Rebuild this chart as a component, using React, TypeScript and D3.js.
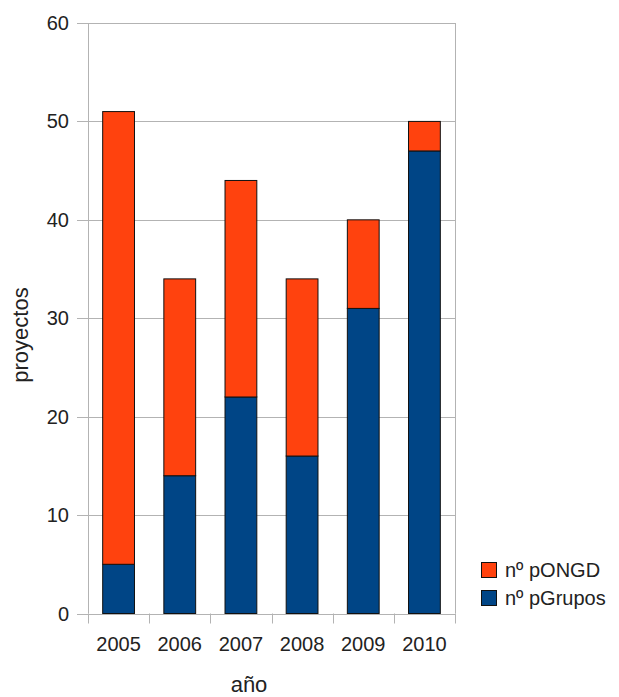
import React from "react";
import * as d3 from "d3";

const years = ["2005", "2006", "2007", "2008", "2009", "2010"];
const pGrupos = [5, 14, 22, 16, 31, 47];
const pONGD = [46, 20, 22, 18, 9, 3];
const yTicks = [0, 10, 20, 30, 40, 50, 60];
const seriesNames = ["nº pONGD", "nº pGrupos"];
const colors = { ongd: "#ff420e", grupos: "#004586" };

export default function App() {
  const W = 619, H = 697;
  const left = 88, right = 455, top = 23, bottom = 613.5;
  const x = d3.scaleBand<string>().domain(years).range([left, right]).paddingInner(0.48).paddingOuter(0.24);
  const xb = d3.scaleBand<string>().domain(years).range([left, right]);
  const y = d3.scaleLinear().domain([0, 60]).range([bottom, top]);
  const font = "'Liberation Sans', Arial, sans-serif";
  const stacked = d3.stack<number>().keys(["g", "o"]).value((i, k) => (k === "g" ? pGrupos[i] : pONGD[i]))(years.map((_, i) => i));

  return (
    <svg width={W} height={H} style={{ position: "absolute", left: 0, top: 0, background: "#fff" }} fontFamily={font}>
      {yTicks.map((t) => (
        <g key={t}>
          <line x1={77} x2={right} y1={Math.round(y(t)) + 0.5} y2={Math.round(y(t)) + 0.5} stroke="#b3b3b3" strokeWidth={1} />
          <text x={69} y={y(t)} dy="0.35em" textAnchor="end" fontSize={20} fill="#222">{t}</text>
        </g>
      ))}
      <line x1={left + 0.5} x2={left + 0.5} y1={top} y2={bottom} stroke="#b3b3b3" />
      <line x1={right + 0.5} x2={right + 0.5} y1={top} y2={bottom} stroke="#b3b3b3" />
      {years.map((yr) => (
        <line key={"t" + yr} x1={Math.round(xb(yr)!) + 0.5} x2={Math.round(xb(yr)!) + 0.5} y1={bottom} y2={bottom + 10} stroke="#b3b3b3" />
      ))}
      <line x1={right + 0.5} x2={right + 0.5} y1={bottom} y2={bottom + 10} stroke="#b3b3b3" />
      {stacked.map((layer) =>
        layer.map((d, i) => (
          <rect
            key={layer.key + i}
            x={x(years[i])!}
            width={x.bandwidth()}
            y={y(d[1])}
            height={y(d[0]) - y(d[1])}
            fill={layer.key === "g" ? colors.grupos : colors.ongd}
            stroke="#111"
            strokeWidth={1}
          />
        ))
      )}
      {years.map((yr) => (
        <text key={"l" + yr} x={xb(yr)! + xb.bandwidth() / 2} y={651} textAnchor="middle" fontSize={20} fill="#222">{yr}</text>
      ))}
      <text x={249} y={692} textAnchor="middle" fontSize={22} fill="#222">año</text>
      <text transform={`translate(28,335) rotate(-90)`} textAnchor="middle" fontSize={22} fill="#222">proyectos</text>
      {seriesNames.map((s, i) => (
        <g key={s}>
          <rect x={481.5} y={562.5 + i * 28} width={15} height={15} fill={i === 0 ? colors.ongd : colors.grupos} stroke="#111" />
          <text x={505} y={570 + i * 28} dy="0.35em" fontSize={20} fill="#222">{s}</text>
        </g>
      ))}
    </svg>
  );
}
